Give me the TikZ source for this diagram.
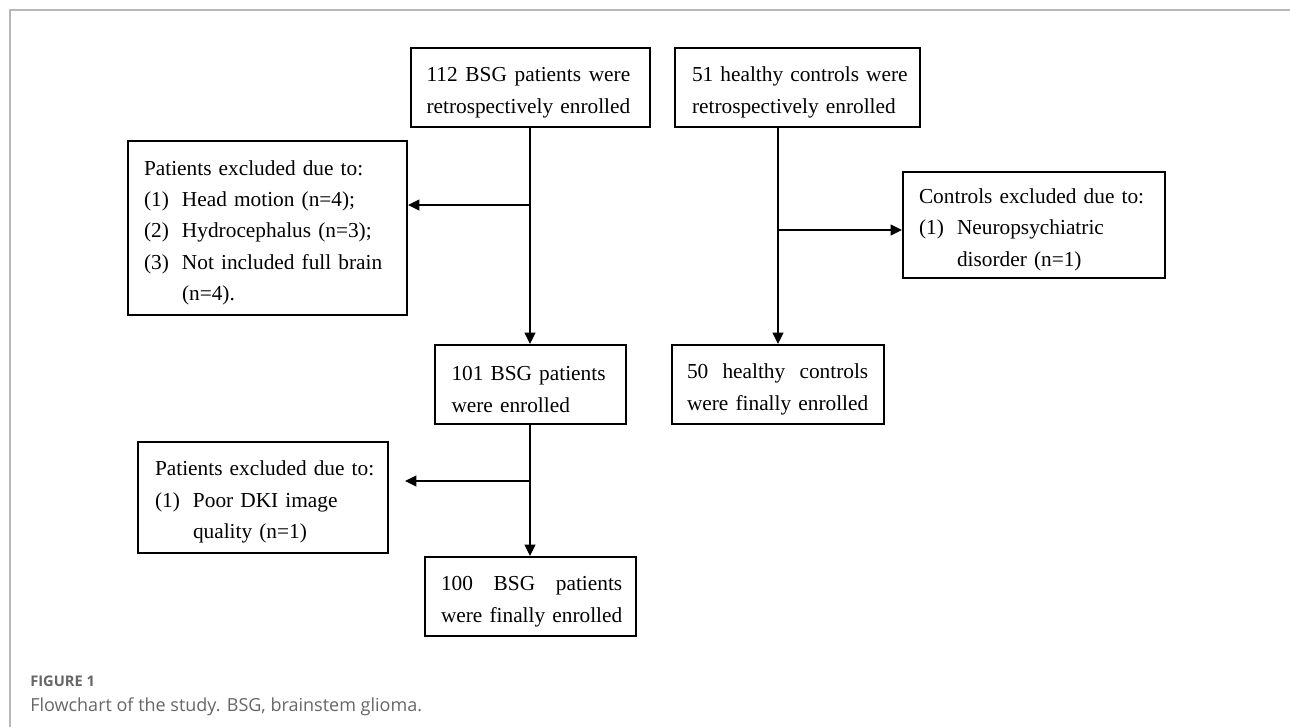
\documentclass[tikz,border=0pt]{standalone}
\usepackage{fontspec}
\setmainfont{Liberation Serif}
\newfontfamily\capfont{Open Sans}
\usetikzlibrary{arrows.meta}
\newlength\jstw
\newcommand\jst[2]{\settowidth\jstw{#2}\hbox to\jstw{#1}\\\mbox{#2}}
\newcommand\itm[2]{\mbox{\makebox[28.5pt][l]{#1}#2}}
\newcommand\cnt[1]{\mbox{\hspace*{28.5pt}#1}}
\begin{document}
\begin{tikzpicture}[x=0.75pt,y=-0.75pt,
  bx/.style={draw, line width=1.5pt, align=left, inner ysep=0pt,
    font=\fontsize{16}{23.6}\selectfont,
    execute at begin node={\rule{0pt}{18.4pt}}},
  arr/.style={line width=1.5pt, -{Triangle[length=8.5pt,width=8pt]}},
  outframe/.style={line width=0.9pt, draw=black!28},
  captxt/.style={anchor=base west, inner sep=0pt, text=black!60}]
\useasboundingbox (0,0) rectangle (1290,727);
\draw[outframe] (10,727) -- (10,10) -- (1290,10);

\node[bx, text width=155.25pt, inner xsep=12pt, minimum height=59.25pt] (A) at (530,87.5)
  {\jst{112\hfill BSG\hfill patients\hfill were}{retrospectively enrolled}};
\node[bx, text width=158.25pt, inner xsep=12.75pt, minimum height=59.25pt] (B) at (797.5,87.5)
  {\mbox{51 healthy controls were}\\\mbox{retrospectively enrolled}};
\node[bx, text width=185.25pt, inner xsep=12pt, minimum height=130.5pt] (P1) at (267.5,228)
  {\mbox{Patients excluded due to:}\\\itm{(1)}{Head motion (n=4);}\\\itm{(2)}{Hydrocephalus (n=3);}\\\itm{(3)}{Not included full brain}\\\cnt{(n=4).}};
\node[bx, text width=172.5pt, inner xsep=12pt, minimum height=79.5pt] (C) at (1034,225)
  {\mbox{Controls excluded due to:}\\\itm{(1)}{Neuropsychiatric}\\\cnt{disorder (n=1)}};
\node[bx, text width=117.75pt, inner xsep=12.75pt, minimum height=59.25pt] (E1) at (530,384.5)
  {\mbox{101 BSG patients}\\\mbox{were enrolled}};
\node[bx, text width=136.5pt, inner xsep=11.25pt, minimum height=59.25pt] (E2) at (778,384.5)
  {\jst{50\hfill healthy\hfill controls}{were finally enrolled}};
\node[bx, text width=162pt, inner xsep=12.75pt, minimum height=83.25pt] (P2) at (263,497.5)
  {\mbox{Patients excluded due to:}\\\itm{(1)}{Poor DKI image}\\\cnt{quality (n=1)}};
\node[bx, text width=134.25pt, inner xsep=12pt, minimum height=59.25pt] (F1) at (530.5,596.5)
  {\jst{100\hfill BSG\hfill patients}{were finally enrolled}};

\coordinate (b1) at (530,205);
\coordinate (b2) at (779,230);
\coordinate (b3) at (530,481);
\coordinate (t3) at (405,481);

\draw[arr] (A.south) -- (E1.north);
\draw[arr] (b1) -- (b1 -| P1.east);
\draw[arr] (E2.north |- B.south) -- (E2.north);
\draw[arr] (b2) -- (b2 -| C.west);
\draw[arr] (E1.south) -- (E1.south |- F1.north);
\draw[arr] (b3) -- (t3);

\node[captxt, font=\capfont\bfseries\fontsize{11}{13}\selectfont] (fig) at (30,686) {FIGURE 1};
\node[captxt, font=\capfont\fontsize{13.5}{16}\selectfont] (cp) at (30,711) {Flowchart of the study. BSG, brainstem glioma.};
\end{tikzpicture}
\end{document}
